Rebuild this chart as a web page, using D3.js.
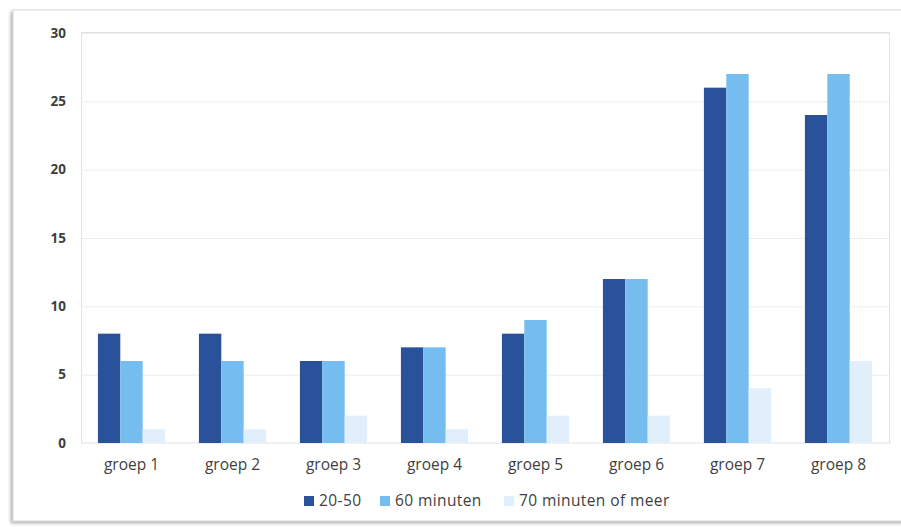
<!DOCTYPE html>
<html>
<head>
<meta charset="utf-8">
<script src="https://cdn.jsdelivr.net/npm/d3@7"></script>
<style>
  html, body { margin: 0; padding: 0; background: #fff; }
  svg { display: block; }
  text { font-family: "Open Sans", "Noto Sans", sans-serif; fill: #3f3f3f; }
</style>
</head>
<body>
<svg id="chart" width="901" height="527"></svg>
<script>
// Aantal leerlingen per groep, naar tijdsduur
const groups = ["groep 1", "groep 2", "groep 3", "groep 4", "groep 5", "groep 6", "groep 7", "groep 8"];
const seriesNames = ["20-50", "60 minuten", "70 minuten of meer"];
const values2050 = [8, 8, 6, 7, 8, 12, 26, 24];
const values60 = [6, 6, 6, 7, 9, 12, 27, 27];
const values70 = [1, 1, 2, 1, 2, 2, 4, 6];
const yTicks = [0, 5, 10, 15, 20, 25, 30];
const colors = ["#2a529b", "#74bdee", "#e1effc"];

const seriesValues = [values2050, values60, values70];
const svg = d3.select("#chart");

// card frame with soft shadow
const defs = svg.append("defs");
const f = defs.append("filter").attr("id", "shadow").attr("x", "-5%").attr("y", "-5%").attr("width", "110%").attr("height", "110%");
f.append("feDropShadow").attr("dx", -2).attr("dy", 2).attr("stdDeviation", 1.5).attr("flood-color", "#888").attr("flood-opacity", 0.6);
svg.append("rect").attr("x", 13).attr("y", 10).attr("width", 900).attr("height", 511)
  .attr("fill", "#fff").attr("stroke", "#d8d8d8").attr("stroke-width", 1).attr("filter", "url(#shadow)");

const plot = { left: 81, right: 889, top: 33, bottom: 443 };

const x0 = d3.scaleBand().domain(groups).range([plot.left, plot.right]).paddingInner(0.335).paddingOuter(0.1675);
const x1 = d3.scaleBand().domain(seriesNames).range([0, x0.bandwidth()]);
const y = d3.scaleLinear().domain([0, 30]).range([plot.bottom, plot.top]);

// grid lines
svg.append("g").selectAll("line").data(yTicks.filter(t => t > 0)).join("line")
  .attr("x1", plot.left).attr("x2", plot.right)
  .attr("y1", d => y(d) + 0.5).attr("y2", d => y(d) + 0.5)
  .attr("stroke", "#ececec").attr("stroke-width", 1);

// plot border
svg.append("rect").attr("x", plot.left + 0.5).attr("y", plot.top - 0.5)
  .attr("width", plot.right - plot.left).attr("height", plot.bottom - plot.top + 0.5)
  .attr("fill", "none").attr("stroke", "#e2e2e2");

// bars
const rows = groups.map((g, i) => ({ group: g, vals: seriesNames.map((s, k) => ({ s, k, v: seriesValues[k][i] })) }));
svg.append("g").selectAll("g").data(rows).join("g")
  .attr("transform", d => `translate(${x0(d.group)},0)`)
  .selectAll("rect").data(d => d.vals).join("rect")
  .attr("x", d => x1(d.s)).attr("width", x1.bandwidth())
  .attr("y", d => y(d.v)).attr("height", d => y(0) - y(d.v))
  .attr("fill", d => colors[d.k]);

// y axis
const yAxis = d3.axisLeft(y).tickValues(yTicks).tickSize(0).tickPadding(0);
const ya = svg.append("g").attr("transform", `translate(66,0)`).call(yAxis);
ya.select(".domain").remove();
ya.selectAll("text").style("font-size", "13.5px").style("font-weight", "700").attr("fill", "#3f3f3f")
  .attr("font-family", null);

// x axis
const xAxis = d3.axisBottom(x0).tickSize(0).tickPadding(0);
const xa = svg.append("g").attr("transform", `translate(0,${plot.bottom + 16})`).call(xAxis);
xa.select(".domain").remove();
xa.selectAll("text").style("font-size", "15.5px").attr("fill", "#3f3f3f").attr("font-family", null);

// legend
const legendX = [304, 380, 504];
const lg = svg.append("g").selectAll("g").data(seriesNames).join("g")
  .attr("transform", (d, i) => `translate(${legendX[i]},497)`);
lg.append("rect").attr("width", 10).attr("height", 10).attr("y", -1).attr("fill", (d, i) => colors[i]);
lg.append("text").attr("x", 15).attr("y", 4).attr("dy", "0.35em")
  .style("font-size", "15.5px").style("letter-spacing", "0.4px").text(d => d);
</script>
</body>
</html>
